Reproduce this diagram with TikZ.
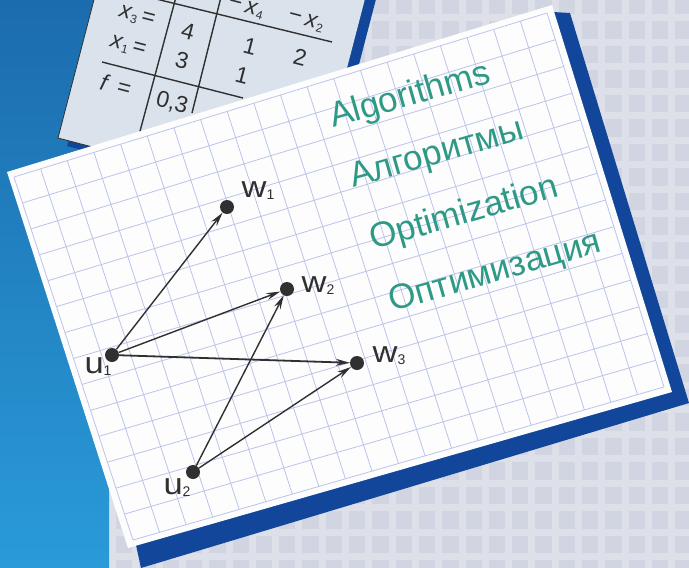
\documentclass[tikz,border=0pt]{standalone}
\usepackage{fontspec}
\setmainfont{Liberation Sans}
\usetikzlibrary{calc,arrows.meta}
\definecolor{bggrey}{HTML}{D1D4E1}
\definecolor{bgline}{HTML}{DDDFE9}
\definecolor{blueTop}{HTML}{1B6CAE}
\definecolor{blueBot}{HTML}{2A9BD8}
\definecolor{navyc}{HTML}{12469A}
\definecolor{tablecard}{HTML}{DAE3EC}
\definecolor{cardwhite}{HTML}{FDFDFD}
\definecolor{gridc}{HTML}{BCC3EA}
\definecolor{wordc}{HTML}{2E9A86}
\definecolor{inkc}{HTML}{303030}
\newcommand\mysub[1]{\raisebox{-2pt}{\fontsize{14}{14}\selectfont #1}}
\newcommand\tsub[1]{\raisebox{-3pt}{\fontsize{12}{12}\selectfont #1}}
\newcommand\wide[1]{\scalebox{1.15}[1]{#1}}
\begin{document}
\begin{tikzpicture}[x=1pt,y=-1pt,
  bgl/.style={draw=bgline,line width=7pt},
  gridl/.style={draw=gridc,line width=0.8pt},
  tabl/.style={draw=inkc,line width=1.4pt},
  tabt/.style={text=inkc,font=\fontsize{23}{23}\selectfont,rotate=-14.6,inner sep=0pt},
  word/.style={text=wordc,font=\fontsize{35}{35}\selectfont,rotate=16,anchor=base west,inner sep=0pt},
  dot/.style={circle,fill=inkc,minimum size=14pt,inner sep=0pt},
  lab/.style={text=inkc,font=\fontsize{30}{30}\selectfont,inner sep=0pt},
  edge/.style={draw=inkc,line width=1.4pt,-{Stealth[length=14pt,width=7pt]}}]
\useasboundingbox (0,0) rectangle (689,568);
% grey checkered background
\fill[bggrey] (0,0) rectangle (689,568);
\foreach \k in {-20,...,10} \draw[bgl] ({462+23.3*\k},0) -- ({462+23.3*\k},568);
\foreach \k in {-20,...,4} \draw[bgl] (0,{483+24.5*\k}) -- (689,{483+24.5*\k});
% blue area
\shade[top color=blueTop,bottom color=blueBot] (0,0) -- (366,0) -- (109,480) -- (109,568) -- (0,568) -- cycle;
% table card
\coordinate (tBL) at (58,138);
\coordinate (tBR) at (311.6,204);
\coordinate (tTR) at (377.1,-47.7);
\coordinate (tTL) at (123.5,-113.7);
\fill[navyc] ($(tBL)+(9,8)$) -- ($(tBR)+(9,8)$) -- ($(tTR)+(9,8)$) -- ($(tTL)+(9,8)$) -- cycle;
\fill[tablecard] (tBL) -- (tBR) -- (tTR) -- (tTL) -- cycle;
\draw[inkc,line width=0.8pt] (tTL) -- (tBL) -- (tBR);
\draw[tabl] (150,-2.5) -- (332,42);
\draw[tabl] (102,62) -- (243,98);
\draw[tabl] (176,-3) -- (139,135);
\draw[tabl] (221,-3) -- (192,113);
\node[tabt] (tx3) at (137,17) {\textit{x}\tsub{3}\,=};
\node[tabt] (tx1) at (128,47) {\textit{x}\tsub{1}\,=};
\node[tabt] (tf) at (116,85) {\textit{f}\hspace{9pt}=};
\node[tabt] (t4) at (188,31) {4};
\node[tabt] (t3) at (182,60) {3};
\node[tabt] (t03) at (172,103) {0,3};
\node[tabt] (ta) at (250,46) {1};
\node[tabt] (tb) at (300,57) {2};
\node[tabt] (tc) at (242,75) {1};
\node[tabt] (th4) at (246,8) {−\,\textit{x}\tsub{4}};
\node[tabt] (th2) at (306,21) {−\,\textit{x}\tsub{2}};
% main card
\coordinate (cTL) at (7,172);
\coordinate (cTR) at (552,5);
\coordinate (cBR) at (672,392);
\coordinate (cBL) at (128,548);
\fill[navyc] (553,12) -- (570,13) -- (689,403) -- (141,568) -- (136,545) -- cycle;
\fill[cardwhite] (cTL) -- (cTR) -- (cBR) -- (cBL) -- cycle;
\coordinate (gTL) at (14,177);
\coordinate (gTR) at (547,13);
\coordinate (gBR) at (664,387);
\coordinate (gBL) at (133,540);
\foreach \i in {0,...,20} \draw[gridl] ($(gTL)!\i/20!(gTR)$) -- ($(gBL)!\i/20!(gBR)$);
\foreach \j in {0,...,14} \draw[gridl] ($(gTL)!\j/14!(gBL)$) -- ($(gTR)!\j/14!(gBR)$);
% words
\node[word] (alg) at (333,128) {Algorithms};
\node[word] (algr) at (353,188) {Алгоритмы};
\node[word] (opt) at (373,250) {Optimization};
\node[word] (optr) at (392,312) {Оптимизация};
% graph
\node[dot] (w1) at (227,207) {};
\node[dot] (w2) at (287,289) {};
\node[dot] (w3) at (357,363) {};
\node[dot] (u1) at (112,355) {};
\node[dot] (u2) at (193,472) {};
\node[lab] (lw1) at (258,191) {\wide{w}\mysub{1}};
\node[lab] (lw2) at (318,286) {\wide{w}\mysub{2}};
\node[lab] (lw3) at (389,356) {\wide{w}\mysub{3}};
\node[lab] (lu1) at (98,367) {\wide{u}\mysub{1}};
\node[lab] (lu2) at (177,488) {\wide{u}\mysub{2}};
\draw[edge] (u1) -- (w1);
\draw[edge] (u1) -- (w2);
\draw[edge,line width=1.8pt] (u1) -- (w3);
\draw[edge] (u2) -- (w2);
\draw[edge] (u2) -- (w3);
\end{tikzpicture}
\end{document}
